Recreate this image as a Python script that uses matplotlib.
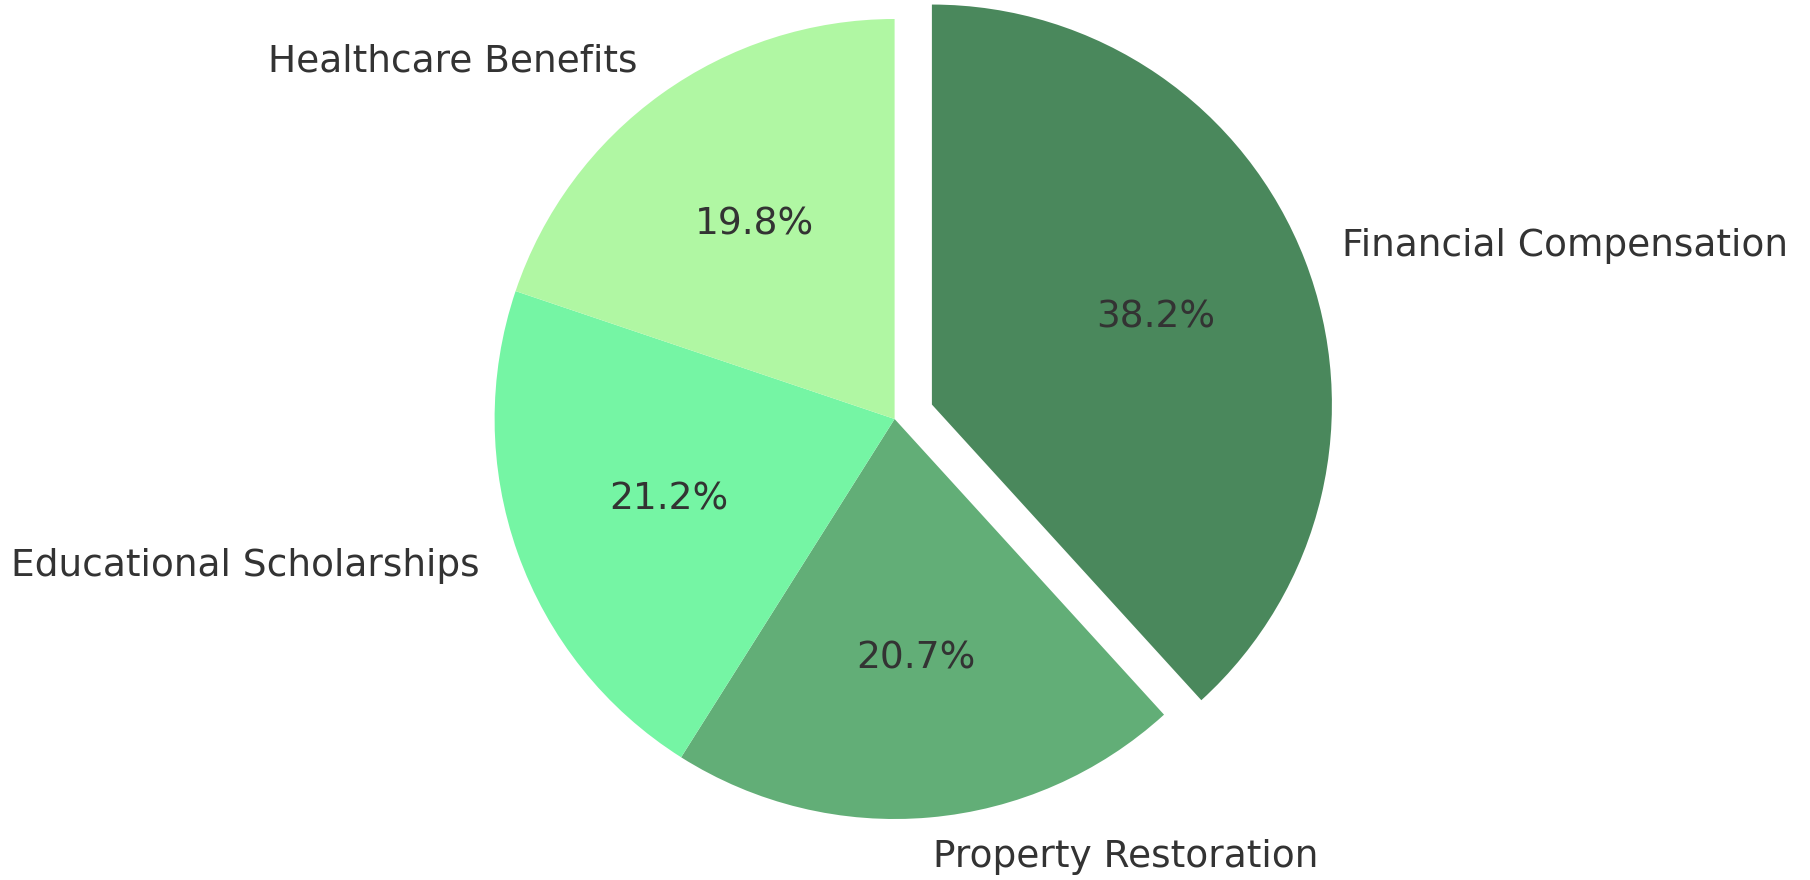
import matplotlib
matplotlib.use("Agg")
import matplotlib.pyplot as plt

# Data
labels = ["Financial Compensation", "Property Restoration",
          "Educational Scholarships", "Healthcare Benefits"]
shares = [38.2, 20.7, 21.2, 19.8]
colors = ["#4a885c", "#62ae77", "#75f5a4", "#b0f7a3"]
explode = [0.1, 0, 0, 0]

fig = plt.figure(figsize=(9.05, 4.4), dpi=200)
ax = fig.add_axes([0, 0, 1, 1])

wedges, texts, autotexts = ax.pie(
    shares, labels=labels, colors=colors, explode=explode,
    autopct="%1.1f%%", startangle=90, counterclock=False,
    textprops={"fontsize": 13.5, "color": "#333333"},
)

# place the pie as in the reference (radius ~400px, centre ~(895, 419))
ax.set_xlim(-2.2365, 2.2885)
ax.set_ylim(-1.1525, 1.0475)
ax.set_aspect("auto")
ax.axis("off")

fig.savefig("out.png", dpi=200)
